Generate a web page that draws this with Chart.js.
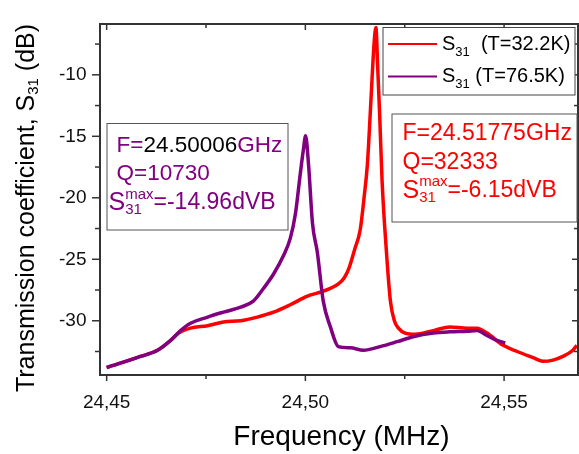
<!DOCTYPE html>
<html>
<head>
<meta charset="utf-8">
<script src="https://cdn.jsdelivr.net/npm/chart.js@4.4.0/dist/chart.umd.min.js"></script>
<style>
  html, body { margin: 0; padding: 0; background: #ffffff; }
  #wrap { width: 579px; height: 454px; }
</style>
</head>
<body>
<div id="wrap"><canvas id="c" width="579" height="454"></canvas></div>
<script>
// Transmission S31 versus frequency at two temperatures
const freqRed = [
  24.4500, 24.4585, 24.4628, 24.4661, 24.4681, 24.4711, 24.4754, 24.4794, 24.4837, 24.4879,
  24.4920, 24.4962, 24.5005, 24.5045, 24.5083, 24.5098, 24.5110, 24.5124, 24.5138, 24.5148,
  24.5156, 24.5163, 24.5168, 24.5173, 24.51775, 24.5182, 24.5187, 24.5193, 24.5204, 24.5214,
  24.5224, 24.5234, 24.5251, 24.5276, 24.5322, 24.5364, 24.5407, 24.5432, 24.5457, 24.5498,
  24.5533, 24.5573, 24.5598, 24.5623, 24.5648, 24.5673, 24.5683
];
const s31Red = [
  -33.8, -32.9, -32.4, -31.6, -31.0, -30.6, -30.4, -30.1, -30.0, -29.7,
  -29.3, -28.7, -28.0, -27.6, -27.0, -26.5, -25.7, -24.2, -22.6, -19.9,
  -17.3, -13.3, -10.2, -7.4, -6.15, -9.4, -13.3, -18.6, -24.4, -28.4,
  -30.0, -30.6, -31.0, -31.1, -30.8, -30.5, -30.6, -30.6, -31.0, -32.0,
  -32.5, -33.0, -33.3, -33.2, -32.9, -32.4, -32.0
];
const freqPurple = [
  24.4500, 24.4585, 24.4628, 24.4661, 24.4686, 24.4711, 24.4754, 24.4794, 24.4837, 24.4869,
  24.4894, 24.4920, 24.4945, 24.4962, 24.4975, 24.4987, 24.4995, 24.50006, 24.5008, 24.5018,
  24.5030, 24.5045, 24.5063, 24.5083, 24.5113, 24.5146, 24.5188, 24.5231, 24.5271, 24.5322,
  24.5364, 24.5407, 24.5432, 24.5457, 24.5482, 24.5503
];
const s31Purple = [
  -33.8, -32.9, -32.4, -31.6, -30.8, -30.2, -29.7, -29.3, -28.9, -28.4,
  -27.4, -26.2, -24.7, -23.3, -21.3, -18.1, -16.1, -14.96, -17.3, -22.1,
  -24.4, -28.4, -30.5, -32.1, -32.2, -32.4, -32.1, -31.7, -31.3, -31.0,
  -30.9, -30.85, -30.8, -31.2, -31.6, -31.8
];

// resonance parameters shown in the boxes
const redPeak = { f: '24.51775', q: '32333', s: '-6.15' };
const purplePeak = { f: '24.50006', q: '10730', s: '-14.96' };

const xTicks = [24.45, 24.50, 24.55];
const xTickLabels = ['24,45', '24,50', '24,55'];
const xMinorTicks = [24.475, 24.525];
const yTicks = [-30, -25, -20, -15, -10];
const yTickLabels = ['-30', '-25', '-20', '-15', '-10'];
const yMinorTicks = [-32.5, -27.5, -22.5, -17.5, -12.5, -7.5];

const RED = '#ff0000';
const PURPLE = '#800080';
const AXIS = '#333333';
const FONT = '"Liberation Sans", Arial, sans-serif';

function pts(xs, ys) { return xs.map((x, i) => ({ x: x, y: ys[i] })); }

// draws a sequence of text runs; each run: [text, size, color, dy]
function runs(ctx, x, y, parts) {
  let cx = x;
  parts.forEach(p => {
    ctx.font = p[1] + 'px ' + FONT;
    ctx.fillStyle = p[2];
    ctx.fillText(p[0], cx, y + (p[3] || 0));
    cx += ctx.measureText(p[0]).width;
  });
  return cx;
}
function runsWidth(ctx, parts) {
  let w = 0;
  parts.forEach(p => { ctx.font = p[1] + 'px ' + FONT; w += ctx.measureText(p[0]).width; });
  return w;
}
function seg(ctx, x1, y1, x2, y2) { ctx.beginPath(); ctx.moveTo(x1, y1); ctx.lineTo(x2, y2); ctx.stroke(); }

// plot frame and tick marks, drawn as filled bars
const frame = {
  id: 'frame',
  afterDatasetsDraw(chart) {
    const ctx = chart.ctx;
    const xs = chart.scales.x, ys = chart.scales.y;
    const L = Math.round(xs.left), R = Math.round(xs.right);
    const T = Math.round(ys.top), B = Math.round(ys.bottom);
    const w = 2;
    ctx.save();
    ctx.fillStyle = AXIS;
    ctx.fillRect(L - 1, T - 1, R - L + w, w);
    ctx.fillRect(L - 1, B - 1, R - L + w, w);
    ctx.fillRect(L - 1, T - 1, w, B - T + w);
    ctx.fillRect(R - 1, T - 1, w, B - T + w);
    const tw = 1.5;
    xTicks.forEach(v => { const p = xs.getPixelForValue(v); ctx.fillRect(p - tw / 2, B, tw, 6); ctx.fillRect(p - tw / 2, T, tw, 6); });
    xMinorTicks.forEach(v => { const p = xs.getPixelForValue(v); ctx.fillRect(p - tw / 2, B, tw, 4); ctx.fillRect(p - tw / 2, T, tw, 4); });
    yTicks.forEach(v => { const p = ys.getPixelForValue(v); ctx.fillRect(L - 8, p - tw / 2, 8, tw); ctx.fillRect(R - 6, p - tw / 2, 6, tw); });
    yMinorTicks.forEach(v => { const p = ys.getPixelForValue(v); ctx.fillRect(L - 5, p - tw / 2, 5, tw); ctx.fillRect(R - 4, p - tw / 2, 4, tw); });
    ctx.restore();
  }
};

const decor = {
  id: 'decor',
  afterDraw(chart) {
    const ctx = chart.ctx;
    ctx.save();
    ctx.textBaseline = 'middle';
    ctx.textAlign = 'left';

    // legend
    ctx.fillStyle = '#fff';
    ctx.fillRect(383, 27.5, 192, 67.5);
    ctx.strokeStyle = '#444';
    ctx.lineWidth = 1;
    ctx.strokeRect(383, 27.5, 192, 67.5);
    const rows = [
      { color: RED, y: 44, rest: '  (T=32.2K)' },
      { color: PURPLE, y: 76.5, rest: ' (T=76.5K)' }
    ];
    rows.forEach(r => {
      ctx.strokeStyle = r.color;
      ctx.lineWidth = 2;
      seg(ctx, 388, r.y, 437, r.y);
      runs(ctx, 442, r.y, [['S', 20, '#000'], ['31', 13, '#000', 8], [r.rest, 20, '#000']]);
    });

    // resonance boxes
    ctx.lineWidth = 1;
    ctx.strokeStyle = '#555';
    ctx.fillStyle = '#fff';
    ctx.fillRect(107, 123.5, 181, 106.5);
    ctx.strokeRect(107, 123.5, 181, 106.5);
    ctx.fillStyle = '#fff';
    ctx.fillRect(392, 114, 185, 108);
    ctx.strokeRect(392, 114, 185, 108);

    runs(ctx, 116.5, 146, [['F=', 22.5, PURPLE], [purplePeak.f, 22.5, '#000'], ['GHz', 22.5, PURPLE]]);
    runs(ctx, 116.5, 174, [['Q=' + purplePeak.q, 22.5, PURPLE]]);
    let sx = runs(ctx, 108.5, 203, [['S', 25, PURPLE]]);
    runs(ctx, sx, 195, [['max', 15, PURPLE]]);
    runs(ctx, sx, 210, [['31', 15, PURPLE]]);
    ctx.font = '15px ' + FONT;
    runs(ctx, sx + ctx.measureText('max').width, 203, [['=' + purplePeak.s + 'dVB', 23, PURPLE]]);

    runs(ctx, 402.5, 134, [['F=' + redPeak.f + 'GHz', 23, RED]]);
    runs(ctx, 402.5, 163, [['Q=' + redPeak.q, 23, RED]]);
    sx = runs(ctx, 402.5, 191, [['S', 25, RED]]);
    runs(ctx, sx, 182, [['max', 15, RED]]);
    runs(ctx, sx, 198, [['31', 15, RED]]);
    ctx.font = '15px ' + FONT;
    runs(ctx, sx + ctx.measureText('max').width, 191, [['=' + redPeak.s + 'dVB', 23, RED]]);

    // axis titles
    const xt = [['Frequency (MHz)', 28, '#000']];
    runs(ctx, 341.5 - runsWidth(ctx, xt) / 2, 437, xt);

    const yt = [['Transmission coefficient, S', 25, '#000'], ['31', 15, '#000', 7], [' (dB)', 25, '#000']];
    ctx.translate(27, 208);
    ctx.rotate(-Math.PI / 2);
    runs(ctx, -runsWidth(ctx, yt) / 2, 0, yt);
    ctx.restore();
  }
};

new Chart(document.getElementById('c'), {
  type: 'line',
  data: {
    datasets: [
      {
        label: 'S31 (T=32.2K)',
        data: pts(freqRed, s31Red),
        borderColor: RED,
        borderWidth: 3.5,
        pointRadius: 0,
        cubicInterpolationMode: 'monotone',
        order: 1
      },
      {
        label: 'S31 (T=76.5K)',
        data: pts(freqPurple, s31Purple),
        borderColor: PURPLE,
        borderWidth: 3.5,
        pointRadius: 0,
        cubicInterpolationMode: 'monotone',
        order: 0
      }
    ]
  },
  options: {
    responsive: false,
    animation: false,
    devicePixelRatio: 1,
    layout: { padding: { top: 20, right: 1, left: 0, bottom: 0 } },
    plugins: { legend: { display: false }, tooltip: { enabled: false } },
    scales: {
      x: {
        type: 'linear',
        min: 24.4482,
        max: 24.5686,
        grid: { display: false, drawTicks: false },
        border: { display: false },
        afterBuildTicks: s => { s.ticks = xTicks.map(v => ({ value: v })); },
        afterFit: s => { s.height = 79.5; },
        ticks: {
          padding: 17,
          color: '#111',
          font: { family: FONT, size: 19 },
          maxRotation: 0,
          callback: (v) => { const i = xTicks.findIndex(t => Math.abs(t - v) < 1e-6); return i >= 0 ? xTickLabels[i] : ''; }
        }
      },
      y: {
        min: -34.37,
        max: -5.9,
        grid: { display: false, drawTicks: false },
        border: { display: false },
        afterBuildTicks: s => { s.ticks = yTicks.map(v => ({ value: v })); },
        afterFit: s => { s.width = 99.5; },
        ticks: {
          padding: 13,
          color: '#111',
          font: { family: FONT, size: 19 },
          callback: (v) => { const i = yTicks.indexOf(v); return i >= 0 ? yTickLabels[i] : ''; }
        }
      }
    }
  },
  plugins: [frame, decor]
});
</script>
</body>
</html>
